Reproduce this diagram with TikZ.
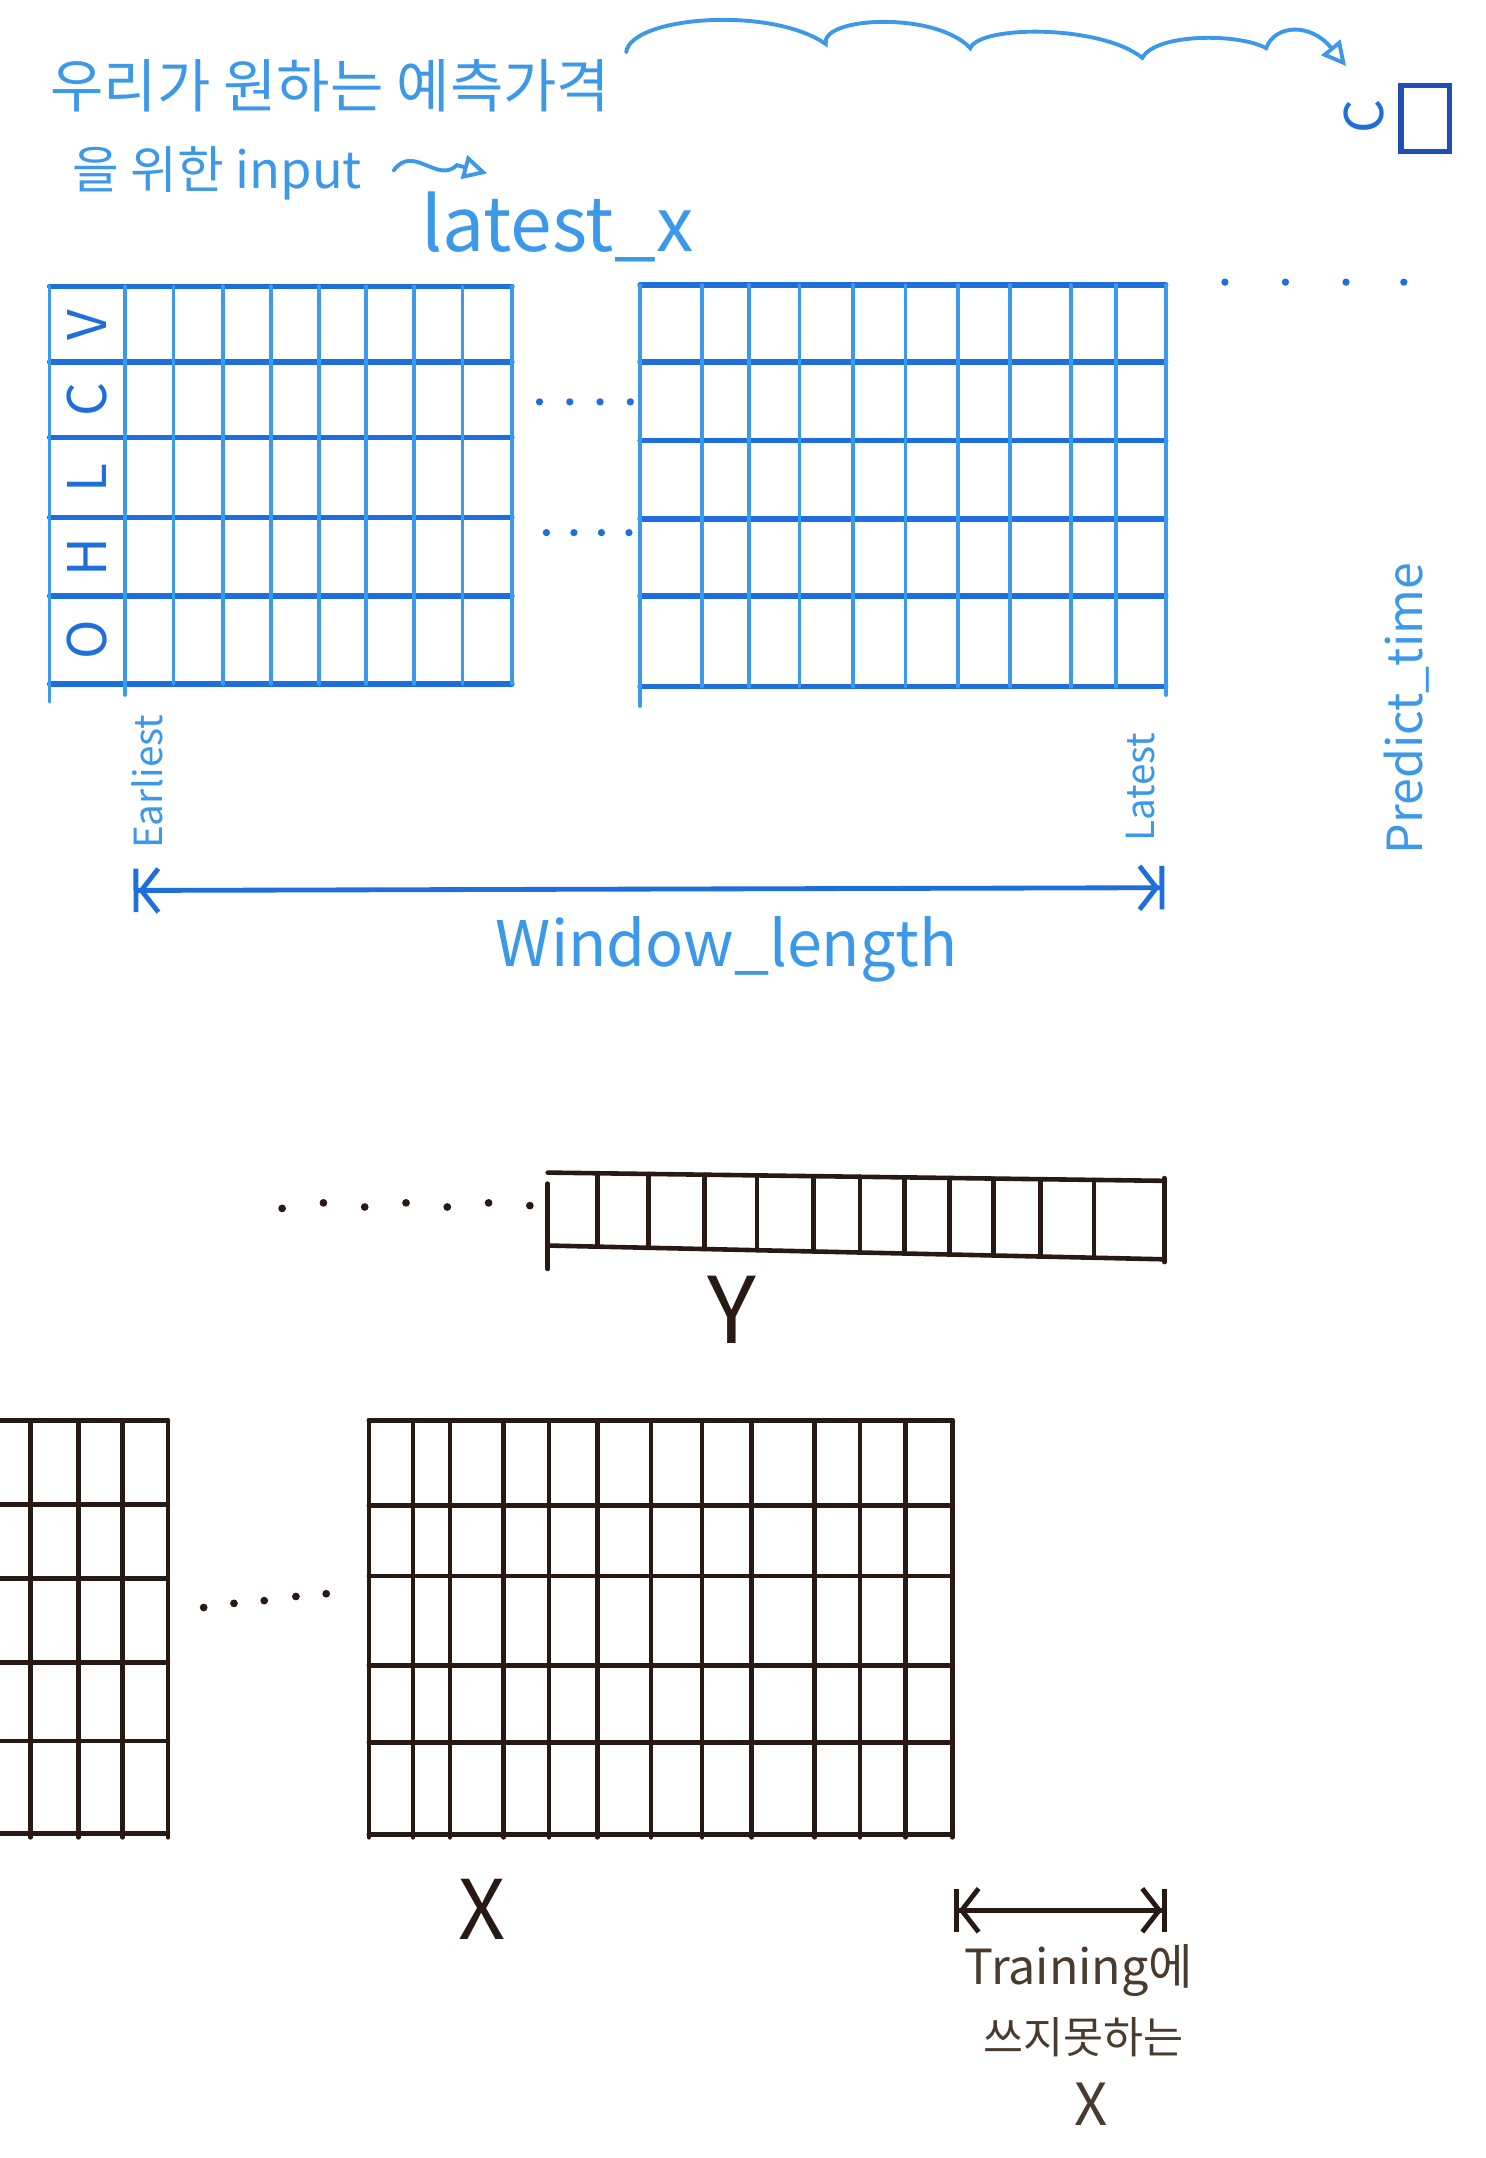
\documentclass[tikz,border=0pt]{standalone}
\usepackage{fontspec}
\setmainfont{Noto Sans CJK KR}
\usetikzlibrary{arrows.meta,positioning}
\definecolor{penblue}{RGB}{30,111,220}
\definecolor{penlight}{RGB}{58,154,238}
\definecolor{penink}{RGB}{60,152,232}
\definecolor{pendark}{RGB}{31,79,181}
\definecolor{penblack}{RGB}{40,26,18}
\definecolor{penbrown}{RGB}{74,59,44}
\tikzset{
  rowline/.style={draw=penblue, line width=2.2pt, line cap=round},
  colline/.style={draw=penlight, line width=1.5pt, line cap=round},
  inkline/.style={draw=penblack, line width=1.9pt, line cap=round},
  bluetext/.style={text=penink, inner sep=0pt},
  browntext/.style={text=penbrown, inner sep=0pt},
  rowlabel/.style={text=penblue, rotate=90, inner sep=0pt, font=\fontsize{22pt}{24pt}\selectfont},
  spanline/.style={line width=2pt, {Bar[width=18pt]Straight Barb[length=7pt,width=18pt]}-{Straight Barb[length=7pt,width=18pt]Bar[width=18pt]}},
  squiggle/.style={draw=penink, line width=1.6pt, line cap=round, -{Triangle[open,length=10pt,width=10pt]}}
}

\begin{document}
\begin{tikzpicture}[x=0.02cm,y=-0.02cm]
  \useasboundingbox[fill=white] (0,0) rectangle (1079,1568);

  % captions at the top
  \node[bluetext, font=\fontsize{24pt}{28pt}\selectfont] (wantText) at (240,62) {우리가 원하는 예측가격};
  \node[bluetext, font=\fontsize{21pt}{24pt}\selectfont] (inputText) at (158,126) {을 위한 input};
  \node[bluetext, font=\fontsize{31pt}{34pt}\selectfont] (latestX) at (405,165) {latest\_x};
  \coordinate (squigA) at (286,124);
  \coordinate (squigB) at (354,126);
  \draw[squiggle] (squigA) .. controls (300,104) and (318,134) .. (332,120) -- (squigB);

  % sliding window arrow and target cell
  \coordinate (slideA) at (455,38);
  \coordinate (slideB) at (978,48);
  \draw[squiggle] (slideA) .. controls (458,12) and (560,4) .. (600,32)
    .. controls (596,12) and (680,8) .. (705,35)
    .. controls (712,18) and (800,18) .. (830,42)
    .. controls (840,24) and (900,24) .. (920,35)
    .. controls (926,18) and (952,16) .. (slideB);
  \node[rowlabel, font=\fontsize{22pt}{24pt}\selectfont] (targetC) at (991,85) {C};
  \node[draw=pendark, line width=2.2pt, minimum width=0.7cm, minimum height=0.96cm, inner sep=0pt] (targetBox) at (1035.5,86) {};

  % first window (blue)
  \foreach \y in {208,263,318,376,433,497}
    \draw[rowline] (36,\y) -- (372,\y);
  \draw[colline] (36,208) -- (36,510);
  \draw[colline] (91,208) -- (91,505);
  \foreach \x in {126,162,197,232,266,301,336,372}
    \draw[colline] (\x,208) -- (\x,497);
  \node[rowlabel] (rowV) at (63,236) {V};
  \node[rowlabel] (rowC) at (63,290) {C};
  \node[rowlabel] (rowL) at (63,347) {L};
  \node[rowlabel] (rowH) at (63,405) {H};
  \node[rowlabel] (rowO) at (63,465) {O};

  \foreach \x in {392,414,436,458}
    \fill[penblue] (\x,292) circle (1.5pt);
  \foreach \x in {397,417,437,457}
    \fill[penblue] (\x,387) circle (1.5pt);

  % latest window (blue)
  \foreach \y in {207,263,320,377,433,499}
    \draw[rowline] (465,\y) -- (847,\y);
  \draw[colline] (465,207) -- (465,513);
  \foreach \x in {510,544,581,620,658,696,734,778,811}
    \draw[colline] (\x,207) -- (\x,499);
  \draw[colline] (847,207) -- (847,505);
  \foreach \x in {890,934,978,1020}
    \fill[penblue] (\x,205) circle (1.5pt);

  \node[bluetext, rotate=90, font=\fontsize{16pt}{18pt}\selectfont] (earliest) at (107,568) {Earliest};
  \node[bluetext, rotate=90, font=\fontsize{16pt}{18pt}\selectfont] (latest) at (829,572) {Latest};
  \node[bluetext, rotate=90, font=\fontsize{20pt}{22pt}\selectfont] (predictTime) at (1022,515) {Predict\_time};

  \coordinate (winStart) at (97,647);
  \coordinate (winEnd) at (846,645);
  \draw[spanline, penblue] (winStart) -- (winEnd);
  \node[bluetext, font=\fontsize{26pt}{30pt}\selectfont] (windowLength) at (528,690) {Window\_length};

  % target strip Y (black)
  \draw[inkline] (398,852) -- (846,858);
  \draw[inkline] (398,905) -- (846,915);
  \draw[inkline] (398,860) -- (398,922);
  \draw[inkline] (846,856) -- (846,917);
  \foreach \x in {434,471,512,550,591,625,657,690,722,756,795}
    \draw[inkline] (\x,{852+(\x-398)*0.0134}) -- (\x,{905+(\x-398)*0.0223});
  \foreach \x/\y in {205/878,235/874,265/877,295/874,325/877,355/874,385/876}
    \fill[penblack] (\x,\y) circle (1.6pt);
  \node[text=penblack, inner sep=0pt, font=\fontsize{38pt}{40pt}\selectfont] (labelY) at (532,952) {Y};

  % input windows X (black)
  \foreach \y in {1032,1093,1147,1208,1265,1332}
    \draw[inkline] (0,\y) -- (122,\y);
  \foreach \x in {22,57,89,122}
    \draw[inkline] (\x,1032) -- (\x,1335);
  \foreach \x/\y in {148/1168,170/1165,192/1163,215/1160,237/1158}
    \fill[penblack] (\x,\y) circle (1.6pt);

  \foreach \y in {1032,1094,1145,1210,1266,1333}
    \draw[inkline] (268,\y) -- (692,\y);
  \foreach \x in {268,300,327,366,399,434,473,510,546,592,625,658,692}
    \draw[inkline] (\x,1032) -- (\x,1335);
  \node[text=penblack, inner sep=0pt, font=\fontsize{34pt}{36pt}\selectfont] (labelX) at (350,1387) {X};

  \coordinate (unusedStart) at (693,1388);
  \coordinate (unusedEnd) at (848,1388);
  \draw[spanline, penblack] (unusedStart) -- (unusedEnd);
  \node[browntext, font=\fontsize{20pt}{22pt}\selectfont] (training) at (784,1432) {Training에};
  \node[browntext, font=\fontsize{18pt}{20pt}\selectfont] (notUsed) at (787,1480) {쓰지못하는};
  \node[browntext, font=\fontsize{24pt}{26pt}\selectfont] (smallX) at (793,1529) {X};
\end{tikzpicture}
\end{document}
